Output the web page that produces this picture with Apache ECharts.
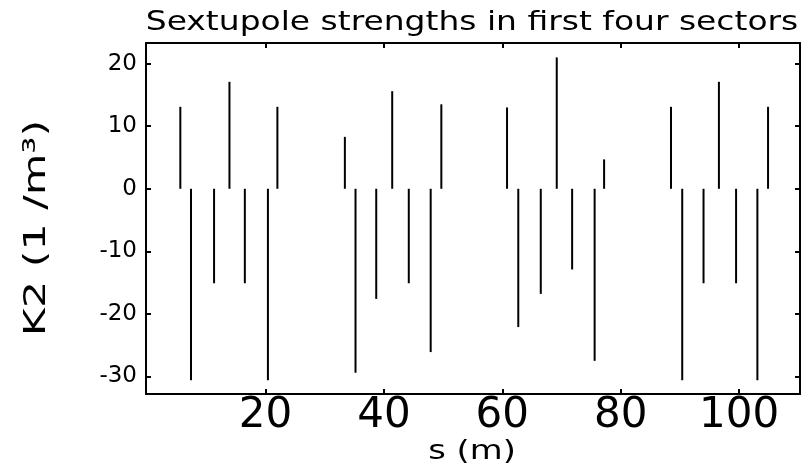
<!DOCTYPE html>
<html>
<head>
<meta charset="utf-8">
<script src="https://cdn.jsdelivr.net/npm/echarts@6/dist/echarts.min.js"></script>
<style>
    html, body { margin: 0; padding: 0; background: #fff; }
    #chart { width: 809px; height: 468px; }
</style>
</head>
<body>
<div id="chart"></div>
<script>
    // sextupole positions along the ring (m) and their strengths K2 (1/m^3)
    const sPositions = [
        5.6, 7.4, 11.3, 13.9, 16.5, 20.4, 22.0,
        33.4, 35.2, 38.7, 41.4, 44.2, 47.9, 49.7,
        60.8, 62.7, 66.5, 69.2, 71.8, 75.6, 77.2,
        88.5, 90.4, 94.0, 96.6, 99.5, 103.1, 104.9
    ];
    const k2Values = [
        13.1, -30.6, -15.1, 17.1, -15.1, -30.6, 13.1,
        8.3, -29.4, -17.6, 15.6, -15.1, -26.1, 13.5,
        13.0, -22.1, -16.8, 21.0, -12.9, -27.5, 4.7,
        13.1, -30.6, -15.1, 17.1, -15.1, -30.6, 13.1
    ];
    const xTicks = [20, 40, 60, 80, 100];
    const yTicks = [-30, -20, -10, 0, 10, 20];

    const titleText = 'Sextupole strengths in first four sectors';
    const xName = 's (m)';
    const yName = 'K2 (1 /m³)';

    const font = '"DejaVu Sans", sans-serif';
    const chart = echarts.init(document.getElementById('chart'));

    const stems = sPositions.map((s, i) => [s, k2Values[i]]);

    const frameLine = { show: true, onZero: false, lineStyle: { color: '#000', width: 2 } };
    const inTick = { show: true, inside: true, length: 5, lineStyle: { color: '#000', width: 2 } };

    const option = {
        animation: false,
        backgroundColor: '#fff',
        grid: { left: 146, right: 9, top: 43, bottom: 74 },
        xAxis: [
            {
                type: 'value', position: 'bottom', min: -0.2, max: 110.3,
                axisLine: frameLine,
                axisTick: Object.assign({ customValues: xTicks }, inTick),
                axisLabel: { customValues: xTicks, color: '#000', fontFamily: font, fontSize: 42, margin: 1 },
                splitLine: { show: false }
            },
            {
                type: 'value', position: 'top', min: -0.2, max: 110.3,
                axisLine: frameLine,
                axisTick: Object.assign({ customValues: xTicks }, inTick),
                axisLabel: { show: false },
                splitLine: { show: false }
            }
        ],
        yAxis: [
            {
                type: 'value', position: 'left', min: -32.8, max: 23.3,
                axisLine: frameLine,
                axisTick: Object.assign({ customValues: yTicks }, inTick),
                axisLabel: { customValues: yTicks, color: '#000', fontFamily: font, fontSize: 23, margin: 9 },
                splitLine: { show: false }
            },
            {
                type: 'value', position: 'right', min: -32.8, max: 23.3,
                axisLine: frameLine,
                axisTick: Object.assign({ customValues: yTicks }, inTick),
                axisLabel: { show: false },
                splitLine: { show: false }
            }
        ],
        graphic: [
            {
                type: 'text', x: 472, y: 23, scaleX: 1.22,
                style: { text: titleText, font: '27px ' + font, fill: '#000', textAlign: 'center', textVerticalAlign: 'middle' }
            },
            {
                type: 'text', x: 472, y: 452, scaleX: 1.3,
                style: { text: xName, font: '26px ' + font, fill: '#000', textAlign: 'center', textVerticalAlign: 'middle' }
            },
            {
                type: 'text', x: 37, y: 228, scaleX: 1.38, rotation: Math.PI / 2,
                style: { text: yName, font: '31px ' + font, fill: '#000', textAlign: 'center', textVerticalAlign: 'middle' }
            }
        ],
        series: [
            {
                type: 'custom',
                xAxisIndex: 0,
                yAxisIndex: 0,
                data: stems,
                encode: { x: 0, y: 1 },
                renderItem: (params, api) => {
                    const base = api.coord([api.value(0), 0]);
                    const tip = api.coord([api.value(0), api.value(1)]);
                    return {
                        type: 'line',
                        shape: { x1: base[0], y1: base[1], x2: tip[0], y2: tip[1] },
                        style: { stroke: '#000', lineWidth: 2 }
                    };
                }
            }
        ]
    };

    chart.setOption(option);
</script>
</body>
</html>
